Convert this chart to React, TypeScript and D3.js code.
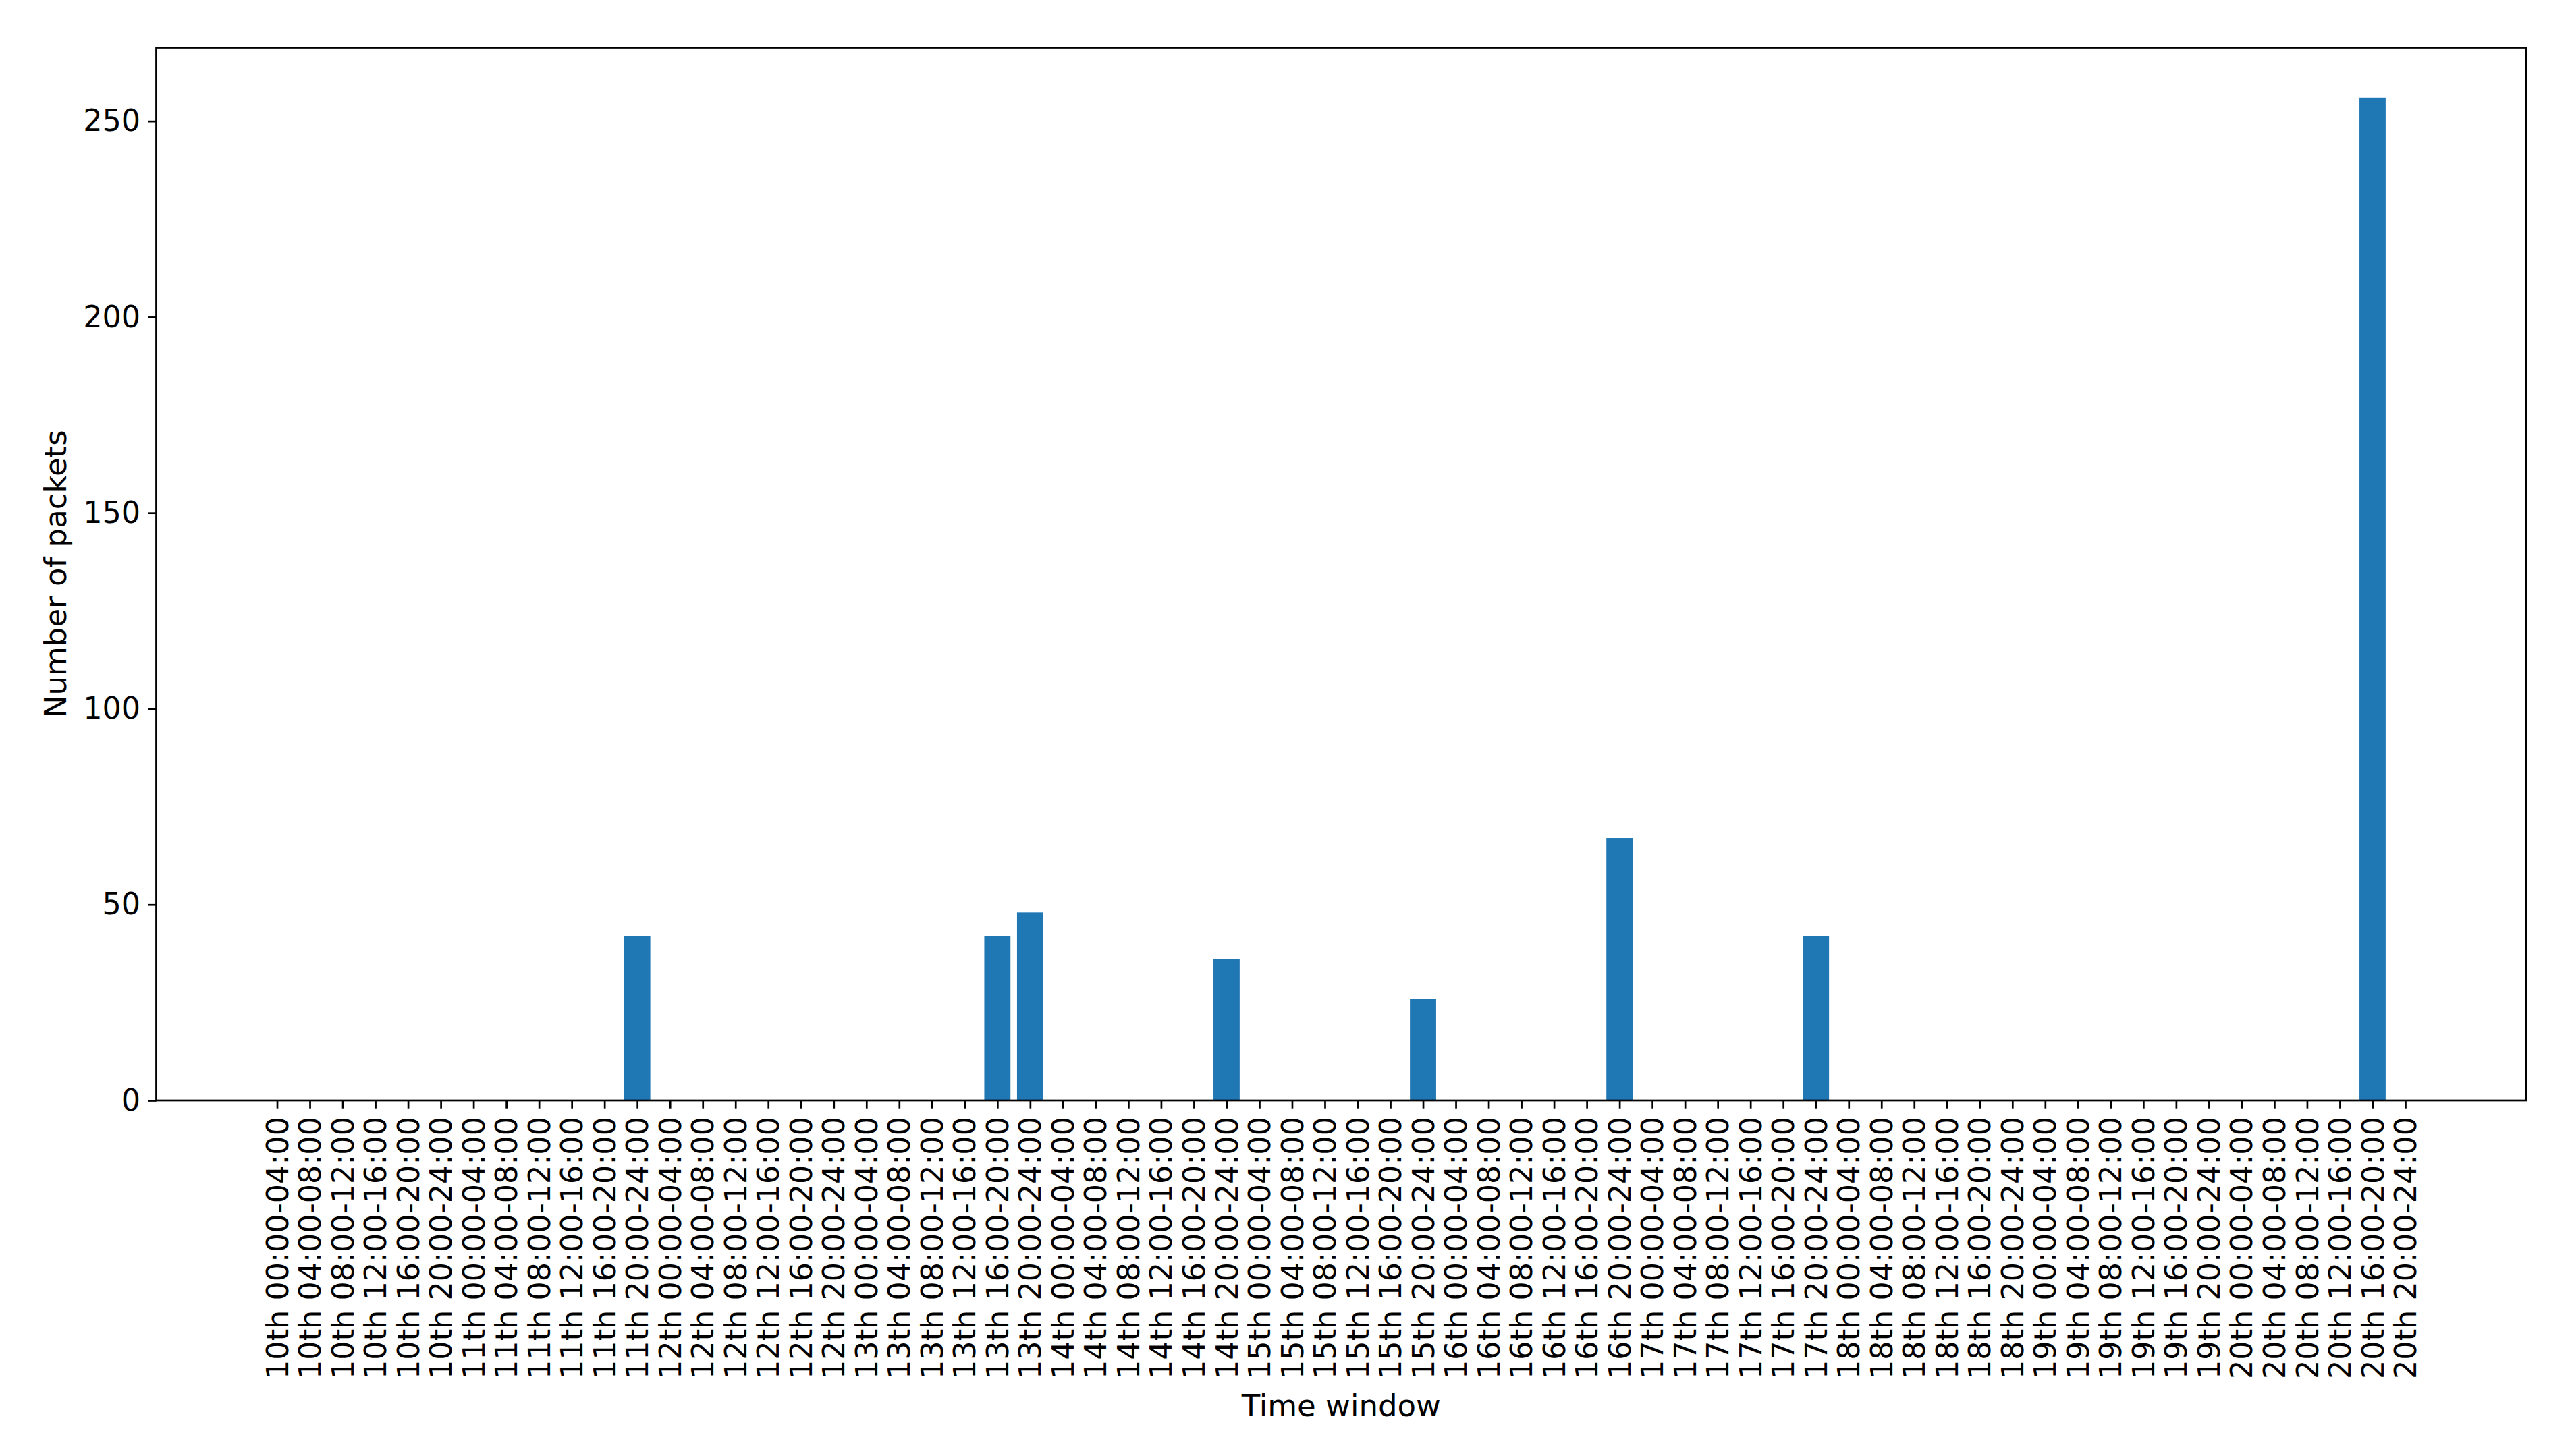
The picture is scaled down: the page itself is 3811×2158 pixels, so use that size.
import React, { useEffect, useRef } from "react";
import * as d3 from "d3";

const days = ["10th", "11th", "12th", "13th", "14th", "15th", "16th", "17th", "18th", "19th", "20th"];
const windows = ["00:00-04:00", "04:00-08:00", "08:00-12:00", "12:00-16:00", "16:00-20:00", "20:00-24:00"];

// packet counts per time window (same order as labels)
const packets = [
  0, 0, 0, 0, 0, 0,
  0, 0, 0, 0, 0, 42,
  0, 0, 0, 0, 0, 0,
  0, 0, 0, 0, 42, 48,
  0, 0, 0, 0, 0, 36,
  0, 0, 0, 0, 0, 26,
  0, 0, 0, 0, 0, 67,
  0, 0, 0, 0, 0, 42,
  0, 0, 0, 0, 0, 0,
  0, 0, 0, 0, 0, 0,
  0, 0, 0, 0, 256, 0,
];

const yTicks = [0, 50, 100, 150, 200, 250];

const labels = days.flatMap((d) => windows.map((w) => `${d} ${w}`));

const WIDTH = 3811;
const HEIGHT = 2158;
const FONT = "'DejaVu Sans', sans-serif";

export default function App() {
  const ref = useRef<SVGSVGElement | null>(null);

  useEffect(() => {
    const svg = d3.select(ref.current);
    svg.selectAll("*").remove();

    const left = 231.5, right = 3743, top = 70.5, bottom = 1631;
    const n = labels.length;
    const pad = (n - 1 + 0.8) * 0.05;

    const x = d3.scaleLinear().domain([-0.4 - pad, n - 1 + 0.4 + pad]).range([left, right]);
    const y = d3.scaleLinear().domain([0, d3.max(packets)! * 1.05]).range([bottom, top]);

    svg.append("rect").attr("width", WIDTH).attr("height", HEIGHT).attr("fill", "#fff");

    const data = packets.map((v, i) => ({ i, v })).filter((d) => d.v > 0);
    svg.append("g")
      .selectAll("rect")
      .data(data)
      .join("rect")
      .attr("x", (d) => x(d.i - 0.4))
      .attr("width", x(0.8) - x(0))
      .attr("y", (d) => y(d.v))
      .attr("height", (d) => y(0) - y(d.v))
      .attr("fill", "#1f77b4");

    const xAxis = d3.axisBottom(x)
      .tickValues(d3.range(n))
      .tickFormat((d) => labels[d as number])
      .tickSize(11.7)
      .tickPadding(11.7);

    const gx = svg.append("g").attr("transform", `translate(0,${bottom})`).call(xAxis);
    gx.select(".domain").remove();
    gx.selectAll("line").attr("stroke", "#000").attr("stroke-width", 2.7);
    gx.selectAll("text")
      .attr("transform", "rotate(-90)")
      .attr("x", -24)
      .attr("y", 0)
      .attr("dy", "0.35em")
      .attr("text-anchor", "end")
      .attr("fill", "#000")
      .attr("font-size", 44.5)
      .attr("font-family", FONT);

    const yAxis = d3.axisLeft(y).tickValues(yTicks).tickSize(11.7).tickPadding(11.7);
    const gy = svg.append("g").attr("transform", `translate(${left},0)`).call(yAxis);
    gy.select(".domain").remove();
    gy.selectAll("line").attr("stroke", "#000").attr("stroke-width", 2.7);
    gy.selectAll("text")
      .attr("fill", "#000")
      .attr("font-size", 44.5)
      .attr("font-family", FONT);

    // frame
    svg.append("rect")
      .attr("x", left)
      .attr("y", top)
      .attr("width", right - left)
      .attr("height", bottom - top)
      .attr("fill", "none")
      .attr("stroke", "#000")
      .attr("stroke-width", 2.7);

    svg.append("text")
      .attr("x", (left + right) / 2)
      .attr("y", 2083)
      .attr("dy", "0.35em")
      .attr("text-anchor", "middle")
      .attr("font-size", 45)
      .attr("font-family", FONT)
      .text("Time window");

    svg.append("text")
      .attr("transform", `translate(82,${(top + bottom) / 2}) rotate(-90)`)
      .attr("dy", "0.35em")
      .attr("text-anchor", "middle")
      .attr("font-size", 45)
      .attr("font-family", FONT)
      .text("Number of packets");
  }, []);

  return (
    <svg
      ref={ref}
      width={WIDTH}
      height={HEIGHT}
      style={{ position: "absolute", left: 0, top: 0, display: "block" }}
    />
  );
}
